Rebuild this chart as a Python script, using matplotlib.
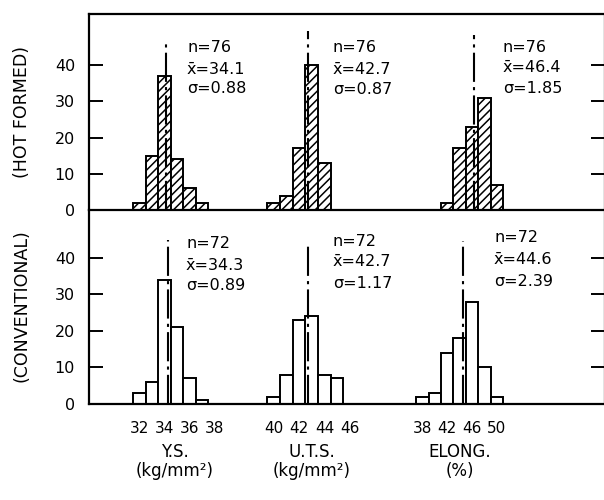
"""Histograms of Y.S., U.T.S. and elongation: hot formed vs conventional."""

import matplotlib

matplotlib.use("Agg")
import matplotlib.pyplot as plt

# ---- data ------------------------------------------------------------------
ys_bins = [32, 33, 34, 35, 36, 37]
ys_hot = [2, 15, 37, 14, 6, 2]
ys_conv = [3, 6, 34, 21, 7, 1]

uts_hot_bins = [40, 41, 42, 43, 44]
uts_hot = [2, 4, 17, 40, 13]
uts_conv_bins = [40, 41, 42, 43, 44, 45]
uts_conv = [2, 8, 23, 24, 8, 7]

el_hot_bins = [42, 44, 46, 48, 50]
el_hot = [2, 17, 23, 31, 7]
el_conv_bins = [38, 40, 42, 44, 46, 48, 50]
el_conv = [2, 3, 14, 18, 28, 10, 2]

n_hot, n_conv = 76, 72
mean_hot = [34.1, 42.7, 46.4]
mean_conv = [34.3, 42.7, 44.6]
sigma_hot = [0.88, 0.87, 1.85]
sigma_conv = [0.89, 1.17, 2.39]
mean_top_hot = [47, 49.3, 48.3]      # height the mean line reaches
mean_top_conv = [44.8, 43.5, 44.4]

ys_ticks = [32, 34, 36, 38]
uts_ticks = [40, 42, 44, 46]
el_ticks = [38, 42, 46, 50]

# ---- layout (figure pixels, 604 x 500) -------------------------------------
W, H = 604, 500
# per property: reference value, its pixel x, pixels per unit, bin width
scales = [(34, 164.3, 12.5, 1), (43, 311.7, 12.7, 1), (46, 472.0, 6.2, 2)]


def xpos(group, v):
    ref, x0, ppu, _ = scales[group]
    return x0 + (v - ref) * ppu


def fx(x):
    return x / W


def fy(y):
    return 1 - y / H


FONT = 11.5
AX_L, AX_R = 89, 605
fig = plt.figure(figsize=(W / 100, H / 100), dpi=100)
ax_top = fig.add_axes([fx(AX_L), fy(210), (AX_R - AX_L) / W, (210 - 14) / H])
ax_bot = fig.add_axes([fx(AX_L), fy(404), (AX_R - AX_L) / W, (404 - 210) / H])

panels = [
    (ax_top, 54.07, [(ys_bins, ys_hot), (uts_hot_bins, uts_hot), (el_hot_bins, el_hot)],
     "////", mean_hot, mean_top_hot),
    (ax_bot, 53.0, [(ys_bins, ys_conv), (uts_conv_bins, uts_conv), (el_conv_bins, el_conv)],
     None, mean_conv, mean_top_conv),
]

plt.rcParams["hatch.linewidth"] = 1.1
for ax, ytop, groups, hatch, means, tops in panels:
    for g, (bins, counts) in enumerate(groups):
        width = scales[g][2] * scales[g][3]
        ax.bar([xpos(g, b) for b in bins], counts, width=width, color="white",
               edgecolor="black", linewidth=1.4, hatch=hatch, zorder=2)
        xm = xpos(g, means[g])
        ax.plot([xm, xm], [0, tops[g]], color="black", linewidth=1.5,
                linestyle=(0, (14, 2.5, 1.5, 2.5)), zorder=3)
    ax.set_xlim(AX_L, AX_R)
    ax.set_ylim(0, ytop)
    ax.set_yticks([0, 10, 20, 30, 40])
    ax.tick_params(axis="y", direction="in", length=10, width=1.4, pad=10,
                   labelsize=FONT, right=True)
    for s in ax.spines.values():
        s.set_linewidth(1.6)

ax_top.set_xticks([])
ax_top.spines["bottom"].set_visible(False)

tick_pos, tick_lab = [], []
for g, ticks in enumerate([ys_ticks, uts_ticks, el_ticks]):
    for t in ticks:
        tick_pos.append(xpos(g, t))
        tick_lab.append(str(t))
ax_bot.set_xticks(tick_pos, tick_lab)
ax_bot.tick_params(axis="x", length=0, pad=12, labelsize=11)

# ---- statistics text ---------------------------------------------------------
stat_pos_hot = [(187, [48, 70, 89]), (333, [48, 69, 90]), (503, [47, 68, 89])]
stat_pos_conv = [(186, [244, 265, 286]), (333, [242, 262, 283]), (494, [238, 260, 282])]
for n, means, sigmas, pos in [(n_hot, mean_hot, sigma_hot, stat_pos_hot),
                              (n_conv, mean_conv, sigma_conv, stat_pos_conv)]:
    for g in range(3):
        x, ys = pos[g]
        lines = [f"n={n}", f"x\u0304={means[g]:.1f}", f"\u03c3={sigmas[g]:.2f}"]
        for line, y in zip(lines, ys):
            fig.text(fx(x), fy(y), line, fontsize=FONT, ha="left", va="center")

# ---- side and bottom labels --------------------------------------------------
fig.text(fx(22), fy(112), "(HOT FORMED)", rotation=90, fontsize=12.5,
         ha="center", va="center")
fig.text(fx(22), fy(306), "(CONVENTIONAL)", rotation=90, fontsize=12.5,
         ha="center", va="center")

for x, label in [(175, "Y.S.\n(kg/mm\u00b2)"), (312, "U.T.S.\n(kg/mm\u00b2)"),
                 (460, "ELONG.\n(%)")]:
    fig.text(fx(x), fy(443), label, fontsize=12, ha="center", va="top",
             linespacing=1.1)

fig.savefig("out.png", dpi=100)
